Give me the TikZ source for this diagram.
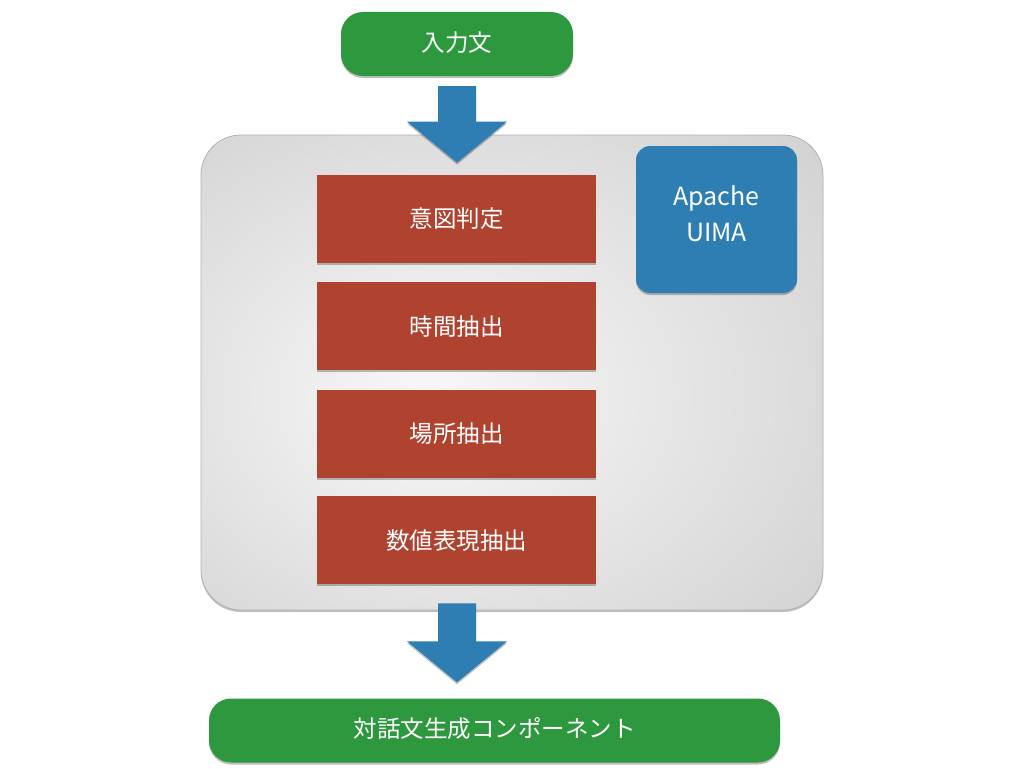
\documentclass[tikz,border=0pt]{standalone}
\usepackage{fontspec}
\setmainfont{Noto Sans CJK JP}
\usepackage{tikz}
\usetikzlibrary{positioning, calc, shadows}

\definecolor{pillgreen}{RGB}{46,152,62}
\definecolor{stepred}{RGB}{176,66,48}
\definecolor{uimablue}{RGB}{46,126,180}
\definecolor{panelin}{RGB}{248,248,248}
\definecolor{panelout}{RGB}{200,200,200}
\definecolor{paneledge}{RGB}{178,178,178}

\pgfdeclareradialshading{panelshade}{\pgfpoint{-7bp}{-3bp}}{color(0bp)=(panelin); color(48bp)=(panelout); color(70bp)=(panelout)}

% fat block arrow: #1 = start of shaft, #2 = tip
\newcommand{\fatarrow}[2]{%
  \fill[uimablue, soft shadow] ($(#1)+(-19,0)$) -- ($(#2)+(-19,-41)$) -- ($(#2)+(-50,-41)$) -- (#2)
    -- ($(#2)+(50,-41)$) -- ($(#2)+(19,-41)$) -- ($(#1)+(19,0)$) -- cycle;}

\begin{document}
\begin{tikzpicture}[
  x=1pt, y=-1pt,
  soft shadow/.style={drop shadow={shadow xshift=0pt, shadow yshift=-2pt, opacity=0.25, fill=black}},
  pill/.style={rectangle, rounded corners=22pt, fill=pillgreen, text=white, minimum height=64pt, inner sep=0pt, text depth=5pt, font=\fontsize{23.5}{28}\selectfont, soft shadow},
  stepbox/.style={rectangle, fill=stepred, text=white, minimum width=279pt, minimum height=88pt, inner sep=0pt, font=\fontsize{23.5}{28}\selectfont, soft shadow},
  uimabox/.style={rectangle, rounded corners=14pt, fill=uimablue, text=white, minimum width=161pt, minimum height=147pt, inner sep=0pt, align=center, font=\fontsize{25}{36}\selectfont, soft shadow},
  panel/.style={rectangle, rounded corners=40pt, shading=panelshade, draw=paneledge, line width=0.8pt, minimum width=622pt, minimum height=475pt, inner sep=0pt, soft shadow},
]
  \useasboundingbox (0,0) rectangle (1024,768);

  \node[panel] (panel) at (512,372.5) {};

  \node[pill, minimum width=232pt] (in) at (457,44) {入力文};
  \node[pill, minimum width=571pt] (out) at (494.5,730.5) {対話文生成コンポーネント};

  \node[stepbox] (intent) at (456.5,219) {意図判定};
  \node[stepbox, below=19pt of intent] (time) {時間抽出};
  \node[stepbox, below=19pt of time] (place) {場所抽出};
  \node[stepbox, below=18pt of place] (number) {数値表現抽出};

  \node[uimabox, text depth=12pt] (uima) at (716.5,219.5) {Apache\\UIMA};

  \coordinate (a1s) at ($(in.south)+(0,10)$);
  \coordinate (a1e) at ($(in.south |- panel.north)+(0,28)$);
  \coordinate (a2s) at ($(in.south |- panel.south)+(0,-7)$);
  \coordinate (a2e) at ($(in.south |- out.north)+(0,-16)$);
  \fatarrow{a1s}{a1e}
  \fatarrow{a2s}{a2e}
\end{tikzpicture}
\end{document}
